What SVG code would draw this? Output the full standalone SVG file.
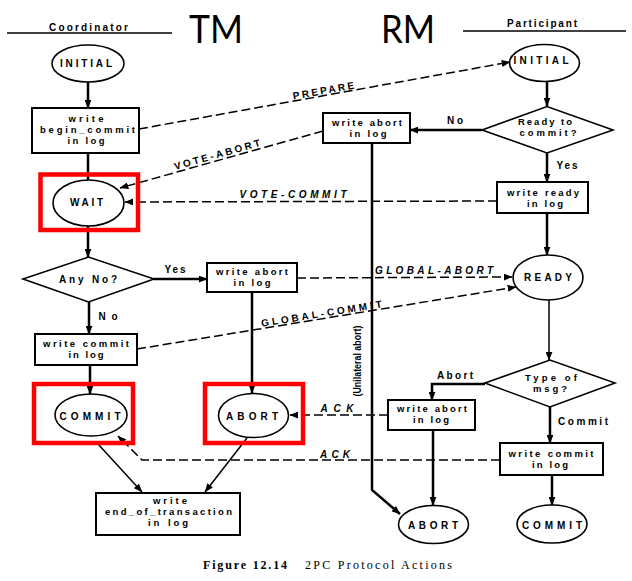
<svg xmlns="http://www.w3.org/2000/svg" width="632" height="581" viewBox="0 0 632 581">
<defs>
<marker id="ah" viewBox="0 0 10 8" refX="9.5" refY="4" markerWidth="9" markerHeight="7" markerUnits="userSpaceOnUse" orient="auto">
<path d="M0,0 L10,4 L0,8 z" fill="#000"/>
</marker>
<style>
.t{font-family:"Liberation Sans",Arial,sans-serif;font-weight:bold;font-size:10px;text-anchor:middle;fill:#000}
.b{font-size:9.5px}
.i{font-style:italic}
.big{font-family:Lato,"Open Sans",sans-serif;font-weight:normal;font-size:38px;text-anchor:middle;fill:#000}
.cap{font-family:"Liberation Serif","Times New Roman",serif;font-size:12px;fill:#000}
.box{fill:#fff;stroke:#000;stroke-width:2}
.ell{fill:#fff;stroke:#000;stroke-width:1.6}
.red{fill:none;stroke:#f00;stroke-width:4.5}
.sol{fill:none;stroke:#000;stroke-width:2.5}
.thin{fill:none;stroke:#000;stroke-width:1.5}
.dash{fill:none;stroke:#000;stroke-width:1.5;stroke-dasharray:9 4}
.hdr{fill:none;stroke:#000;stroke-width:1.5}
</style>
</defs>
<rect width="632" height="581" fill="#fff"/>

<g id="headers">
<line class="hdr" x1="7" y1="33" x2="172" y2="33"/>
<text class="t" x="88.5" y="31" font-size="9" textLength="79">Coordinator</text>
<line class="hdr" x1="463" y1="31" x2="626" y2="31"/>
<text class="t" x="542" y="27" font-size="9" textLength="70">Participant</text>
<text class="big" x="216" y="43" textLength="54" lengthAdjust="spacingAndGlyphs">TM</text>
<text class="big" x="408" y="43" textLength="54" lengthAdjust="spacingAndGlyphs">RM</text>
</g>

<g id="connectors">
<path class="sol" d="M88,82 V108" marker-end="url(#ah)"/>
<path class="sol" d="M88,153 V180"/>
<path class="sol" d="M88,226 V257" marker-end="url(#ah)"/>
<path class="sol" d="M154,279 H207" marker-end="url(#ah)"/>
<path class="sol" d="M89,302 V334" marker-end="url(#ah)"/>
<path class="sol" d="M90,365 V394" marker-end="url(#ah)"/>
<path class="sol" d="M252,292 V393" marker-end="url(#ah)"/>
<path class="thin" d="M98,444 L142,492" marker-end="url(#ah)"/>
<path class="thin" d="M247,438 L205,492" marker-end="url(#ah)"/>
<path class="sol" d="M547,82 V106" marker-end="url(#ah)"/>
<path class="sol" d="M482,130 H410" marker-end="url(#ah)"/>
<path class="sol" d="M547,153 V182" marker-end="url(#ah)"/>
<path class="sol" d="M547,213 V255" marker-end="url(#ah)"/>
<path class="thin" d="M549,300 V360" marker-end="url(#ah)"/>
<path class="sol" d="M485,384 H432 V400" marker-end="url(#ah)"/>
<path class="sol" d="M550,407 V443" marker-end="url(#ah)"/>
<path class="sol" d="M433,430 V505" marker-end="url(#ah)"/>
<path class="sol" d="M552,475 V505" marker-end="url(#ah)"/>
<path class="sol" d="M372,143 V490 L400,514" marker-end="url(#ah)"/>
<path class="dash" d="M139,129 L510,62" marker-end="url(#ah)"/>
<path class="dash" d="M323,131 L120,188" marker-end="url(#ah)"/>
<path class="dash" d="M497,201 L125,202" marker-end="url(#ah)"/>
<path class="dash" d="M297,278 L512,277" marker-end="url(#ah)"/>
<path class="dash" d="M137,349 L516,287" marker-end="url(#ah)"/>
<path class="dash" d="M388,415 L290,415" marker-end="url(#ah)"/>
<path class="dash" d="M500,460 H142 L118,436" marker-end="url(#ah)"/>
<text class="t" transform="rotate(-10.2 324 94)" x="324" y="94" textLength="62">PREPARE</text>
<text class="t" transform="rotate(-15.7 218 158)" x="218" y="158" textLength="89">VOTE-ABORT</text>
<text class="t i" x="293" y="198" textLength="107">VOTE-COMMIT</text>
<text class="t i" x="434" y="274" textLength="118">GLOBAL-ABORT</text>
<text class="t" transform="rotate(-9.3 322 317)" x="322" y="317" textLength="122">GLOBAL-COMMIT</text>
<text class="t i" x="337" y="412" textLength="33">ACK</text>
<text class="t i" x="335" y="458" textLength="30">ACK</text>
<text class="t" x="455" y="124" textLength="16">No</text>
<text class="t" x="567" y="169" textLength="21">Yes</text>
<text class="t" x="175" y="273" textLength="21">Yes</text>
<text class="t" x="108" y="320" textLength="19">No</text>
<text class="t" x="455" y="379" textLength="36">Abort</text>
<text class="t" x="583" y="425" textLength="50">Commit</text>
<text class="t" transform="rotate(-90 361 357)" x="357" y="357" font-size="11" textLength="71" lengthAdjust="spacingAndGlyphs">(Unilateral abort)</text>
</g>

<g id="c-initial">
<ellipse class="ell" cx="88" cy="63.5" rx="36" ry="18.5"/>
<text class="t" x="86" y="67" textLength="52">INITIAL</text>
</g>
<g id="c-begin-commit">
<rect class="box" x="32" y="108" width="107" height="45"/>
<text class="t b" x="86" y="122" textLength="35">write</text>
<text class="t b" x="87.5" y="133" textLength="95">begin_commit</text>
<text class="t b" x="86" y="144" textLength="37">in log</text>
</g>
<g id="c-wait">
<ellipse class="ell" cx="88.5" cy="203" rx="35.5" ry="23"/>
<text class="t" x="86.5" y="206" textLength="33">WAIT</text>
<rect class="red" x="40.5" y="174.5" width="97.5" height="55.5"/>
</g>
<g id="c-anyno">
<polygon class="ell" points="23,279 88.5,257 154,279 88.5,302"/>
<text class="t" x="88" y="283" textLength="58">Any No?</text>
</g>
<g id="c-write-abort">
<rect class="box" x="207" y="263" width="90" height="29"/>
<text class="t b" x="252" y="275" textLength="72">write abort</text>
<text class="t b" x="252" y="286" textLength="37">in log</text>
</g>
<g id="c-write-commit">
<rect class="box" x="35" y="334" width="102" height="31"/>
<text class="t b" x="86" y="347" textLength="86">write commit</text>
<text class="t b" x="86" y="358" textLength="35">in log</text>
</g>
<g id="c-commit">
<ellipse class="ell" cx="91" cy="415" rx="36" ry="21"/>
<text class="t" x="90" y="420" textLength="61">COMMIT</text>
<rect class="red" x="34" y="384" width="99" height="59"/>
</g>
<g id="c-abort">
<ellipse class="ell" cx="253.5" cy="415.5" rx="35" ry="22"/>
<text class="t" x="252" y="420" textLength="52">ABORT</text>
<rect class="red" x="205" y="384" width="98" height="59"/>
</g>
<g id="c-end">
<rect class="box" x="96" y="493" width="144" height="42"/>
<text class="t b" x="170" y="504" textLength="34">write</text>
<text class="t b" x="168.5" y="515" textLength="127">end_of_transaction</text>
<text class="t b" x="168" y="526" textLength="40">in log</text>
</g>

<g id="p-initial">
<ellipse class="ell" cx="544.5" cy="63" rx="35" ry="18.5"/>
<text class="t" x="541" y="64" textLength="55">INITIAL</text>
</g>
<g id="p-ready-q">
<polygon class="ell" points="482,130 547,106.5 613,130 547,153"/>
<text class="t b" x="545" y="125" textLength="54">Ready to</text>
<text class="t b" x="548" y="136" textLength="57">commit?</text>
</g>
<g id="p-write-abort-1">
<rect class="box" x="323" y="113" width="87" height="30"/>
<text class="t b" x="367" y="126" textLength="70">write abort</text>
<text class="t b" x="368" y="137" textLength="37">in log</text>
</g>
<g id="p-write-ready">
<rect class="box" x="497" y="182" width="91" height="31"/>
<text class="t b" x="543" y="196" textLength="72">write ready</text>
<text class="t b" x="545" y="207" textLength="36">in log</text>
</g>
<g id="p-ready">
<ellipse class="ell" cx="548" cy="277.5" rx="35" ry="22.5"/>
<text class="t" x="548" y="281" textLength="48">READY</text>
</g>
<g id="p-type-q">
<polygon class="ell" points="485,383 550,360 615,383 550,407"/>
<text class="t b" x="551" y="381" textLength="52">Type of</text>
<text class="t b" x="550" y="392" textLength="34">msg?</text>
</g>
<g id="p-write-abort-2">
<rect class="box" x="388" y="400" width="87" height="30"/>
<text class="t b" x="432" y="412" textLength="70">write abort</text>
<text class="t b" x="431" y="423" textLength="36">in log</text>
</g>
<g id="p-write-commit">
<rect class="box" x="500" y="443" width="103" height="32"/>
<text class="t b" x="551" y="457" textLength="85">write commit</text>
<text class="t b" x="550" y="468" textLength="36">in log</text>
</g>
<g id="p-abort">
<ellipse class="ell" cx="433.5" cy="524.5" rx="35" ry="19"/>
<text class="t" x="433" y="529" textLength="50">ABORT</text>
</g>
<g id="p-commit">
<ellipse class="ell" cx="552" cy="524" rx="35" ry="19"/>
<text class="t" x="552" y="529" textLength="60">COMMIT</text>
</g>

<g id="caption">
<text class="cap" x="203" y="569" font-weight="bold" textLength="84">Figure 12.14</text>
<text class="cap" x="305" y="569" textLength="147">2PC Protocol Actions</text>
</g>
</svg>
